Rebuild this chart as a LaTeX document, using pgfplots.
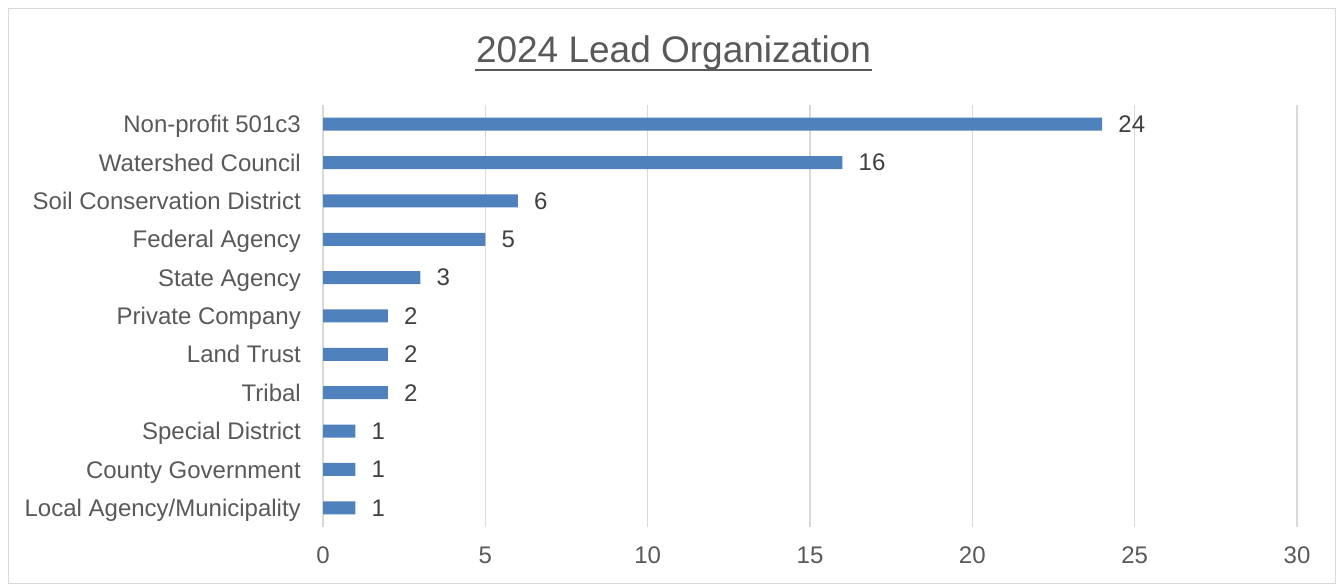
\documentclass[border=0pt]{standalone}
\usepackage{pgfplots}
\pgfplotsset{compat=1.18}
\usepackage{fontspec}
\setmainfont{Liberation Sans}
\definecolor{barblue}{HTML}{4F81BD}
\definecolor{gridgray}{HTML}{D9D9D9}
\definecolor{labelgray}{HTML}{595959}
\definecolor{datagray}{HTML}{404040}
\definecolor{framegray}{HTML}{D9D9D9}
\begin{document}
\begin{tikzpicture}
\path[use as bounding box] (0bp,0bp) rectangle (1343bp,585bp);
\fill[white] (0bp,0bp) rectangle (1343bp,585bp);
\draw[framegray, line width=1bp] (8.5bp,1.5bp) rectangle (1335.5bp,576.5bp);
\node[anchor=base, text=labelgray, font=\fontsize{37bp}{44bp}\selectfont, inner sep=0pt] at (673.5bp,522bp) {2024 Lead Organization};
\draw[labelgray, line width=1.5bp] (475bp,515bp) -- (872bp,515bp);
\begin{axis}[
  at={(323bp,58bp)}, anchor=south west,
  scale only axis, width=974bp, height=422bp,
  xbar, bar width=13bp,
  xmin=0, xmax=30, ymin=-0.5, ymax=10.5,
  xtick={0,5,...,30},
  ytick={0,...,10},
  yticklabels={Local Agency/Municipality, County Government, Special District, Tribal, Land Trust, Private Company, State Agency, Federal Agency, Soil Conservation District, Watershed Council, Non-profit 501c3},
  axis line style={draw=none},
  major tick length=0pt,
  xmajorgrids,
  grid style={gridgray, line width=1.2bp},
  /pgf/number format/assume math mode=true,
  yticklabel style={anchor=base east, inner sep=0pt, xshift=-22bp, yshift=-8.6bp, text=labelgray, font=\fontsize{24bp}{28bp}\selectfont},
  xticklabel style={anchor=north, inner sep=0pt, yshift=-20bp, text=labelgray, font=\fontsize{24bp}{28bp}\selectfont},
  nodes near coords,
  every node near coord/.append style={anchor=west, inner sep=0pt, xshift=16bp, text=datagray, font=\fontsize{24bp}{28bp}\selectfont},
]
\addplot[fill=barblue, draw=none] coordinates {
  (1,0) (1,1) (1,2) (2,3) (2,4) (2,5) (3,6) (5,7) (6,8) (16,9) (24,10)
};
\end{axis}
\end{tikzpicture}
\end{document}
